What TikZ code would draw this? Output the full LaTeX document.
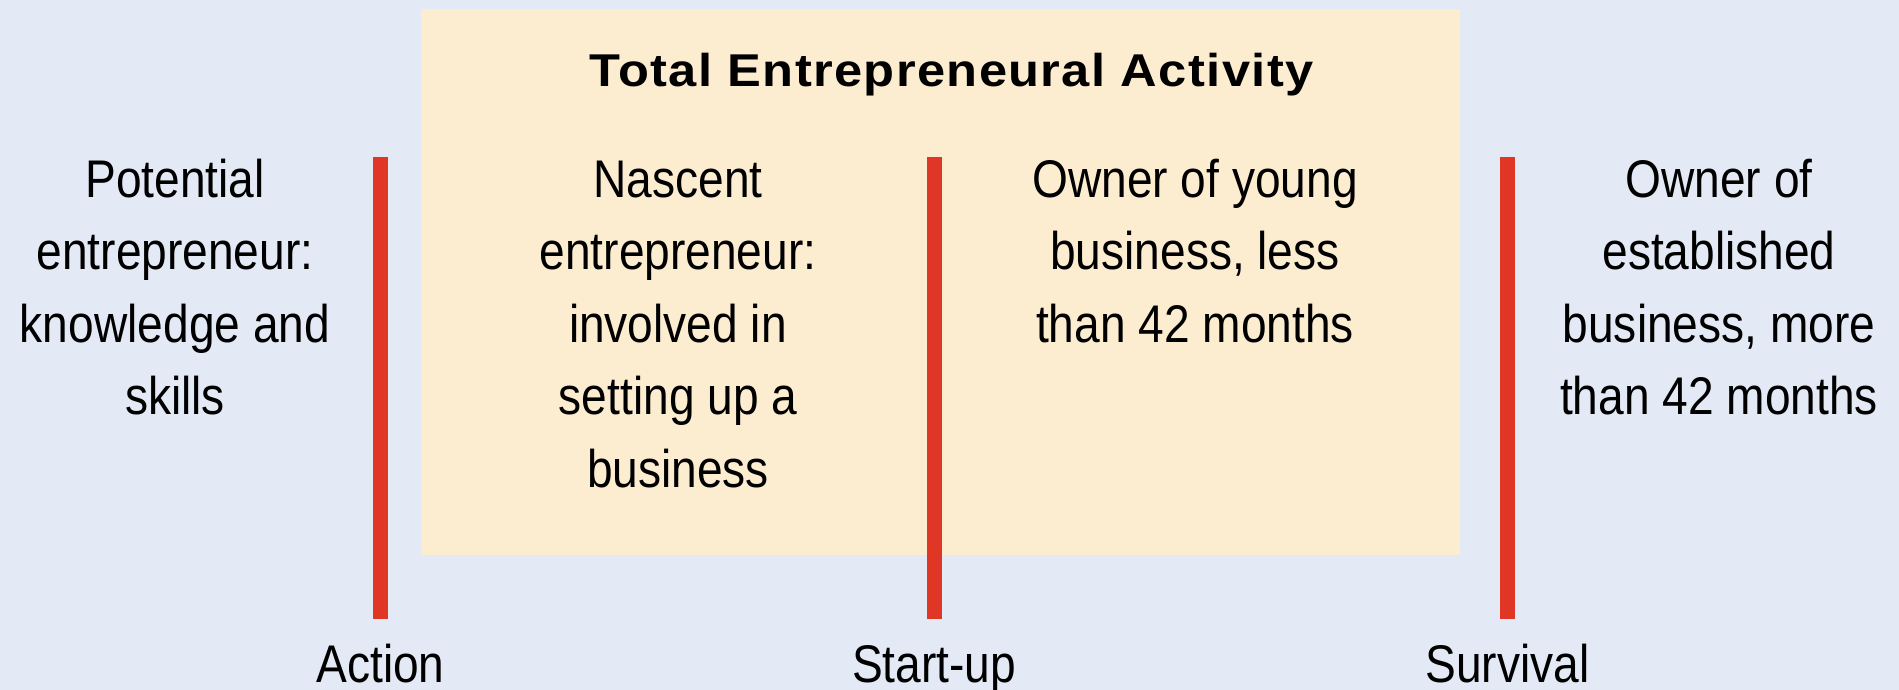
\documentclass[tikz,border=0pt]{standalone}
\usepackage{fontspec}
\setmainfont[FakeStretch=0.87]{Liberation Sans}
\newfontfamily\titlefont[FakeStretch=1.1,LetterSpace=3]{Liberation Sans}
\definecolor{bgblue}{RGB}{227,233,245}
\definecolor{beige}{RGB}{252,237,208}
\definecolor{barred}{RGB}{224,54,38}
\newcommand\colstack[1]{\begin{tabular}[t]{@{}c@{}}#1\end{tabular}}
\begin{document}
\begin{tikzpicture}[x=0.5pt,y=-0.5pt,
  tea/.style={fill=beige,draw=none,inner sep=0pt,minimum width=519.5pt,minimum height=273pt},
  redbar/.style={fill=barred,draw=none,inner sep=0pt,minimum width=7.5pt,minimum height=231pt},
  txt/.style={anchor=base,inner sep=0pt,font=\fontsize{26.5}{36.25}\selectfont},
  heading/.style={anchor=base,inner sep=0pt,font={\titlefont\bfseries\fontsize{23}{28}\selectfont}}]
  % background
  \fill[bgblue] (0,0) rectangle (1899,690);
  \useasboundingbox (0,0) rectangle (1899,690);
  % total entrepreneurial activity area
  \node[tea] (tea) at (940.5,282) {};
  \node[heading] (title) at (951.5,87) {Total Entrepreneural Activity};
  % stage dividers
  \node[redbar] (bar1) at (380.5,388) {};
  \node[redbar] (bar2) at (934,388) {};
  \node[redbar] (bar3) at (1507.5,388) {};
  % stage names
  \node[txt] (action) at (380.5,682) {Action};
  \node[txt] (startup) at (934,682) {Start-up};
  \node[txt] (survival) at (1507.5,682) {Survival};
  % phase descriptions
  \node[txt] (potential) at (175,197) {\colstack{Potential\\entrepreneur:\\knowledge and\\skills}};
  \node[txt] (nascent) at (678,197) {\colstack{Nascent\\entrepreneur:\\involved in\\setting up a\\business}};
  \node[txt] (young) at (1195,197) {\colstack{Owner of young\\business, less\\than 42 months}};
  \node[txt] (established) at (1719,197) {\colstack{Owner of\\established\\business, more\\than 42 months}};
\end{tikzpicture}
\end{document}
